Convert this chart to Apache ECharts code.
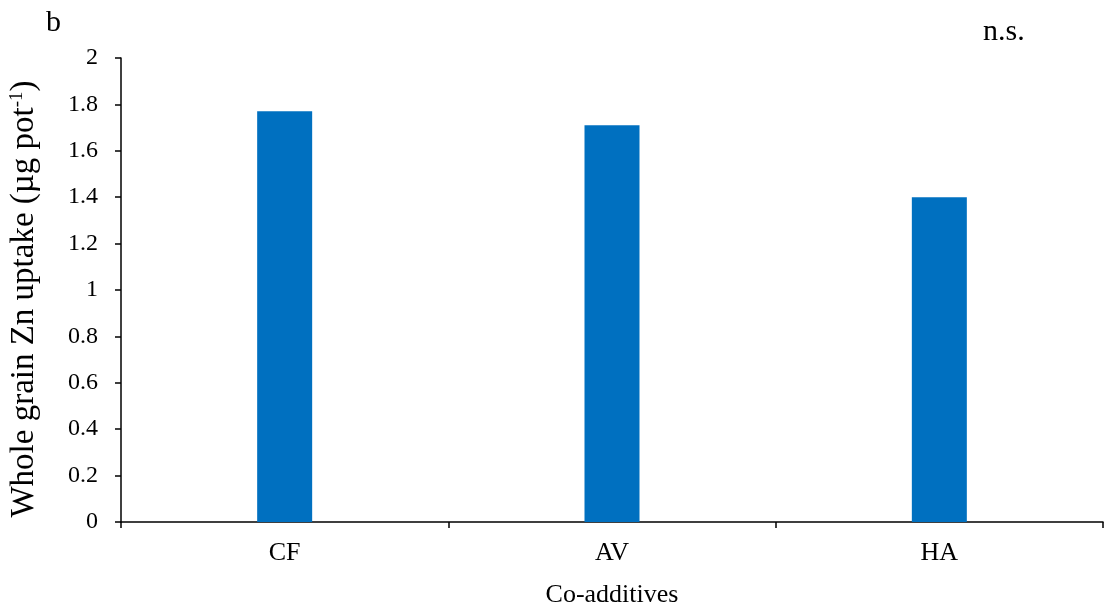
<!DOCTYPE html>
<html><head><meta charset="utf-8">
<script src="https://cdn.jsdelivr.net/npm/echarts@6/dist/echarts.min.js"></script>
<style>html,body{margin:0;padding:0;background:#fff}#c{width:1104px;height:605px}</style>
</head><body><div id="c"></div>
<script>
const categories = ['CF', 'AV', 'HA'];
const values = [1.77, 1.71, 1.40];
const yTicks = { min: 0, max: 2, interval: 0.2 };

const chart = echarts.init(document.getElementById('c'), null, { renderer: 'canvas' });
const font = 'Liberation Serif, Times New Roman, serif';
chart.setOption({
  animation: false,
  backgroundColor: '#fff',
  textStyle: { fontFamily: font },
  grid: { left: 121, right: 1, top: 58, bottom: 83, outerBoundsMode: 'none', containLabel: false },
  graphic: [
    { type: 'text', left: 46, top: 8, style: { text: 'b', font: '30px ' + font, fill: '#000' } },
    { type: 'text', left: 983, top: 17, style: { text: 'n.s.', font: '30px ' + font, fill: '#000' } }
  ],
  xAxis: {
    type: 'category',
    data: categories,
    name: 'Co-additives',
    nameLocation: 'middle',
    nameGap: 60,
    nameTextStyle: { fontFamily: font, fontSize: 26, color: '#000' },
    axisLine: { lineStyle: { color: '#000', width: 1.5 } },
    axisTick: { show: true, length: 6, lineStyle: { color: '#000', width: 1.5 } },
    axisLabel: { fontFamily: font, fontSize: 26, color: '#000', margin: 18 }
  },
  yAxis: {
    type: 'value',
    min: yTicks.min, max: yTicks.max, interval: yTicks.interval,
    name: 'Whole grain Zn uptake (µg pot{sup|-1})',
    nameLocation: 'middle',
    nameGap: 80,
    nameTextStyle: { fontFamily: font, fontSize: 33, color: '#000', padding: [0, 18, 0, 0],
      rich: { sup: { fontFamily: font, fontSize: 19, color: '#000', verticalAlign: 'top', padding: [0, 0, 14, 0] } } },
    axisLine: { show: true, lineStyle: { color: '#000', width: 1.5 } },
    axisTick: { show: true, length: 6, lineStyle: { color: '#000', width: 1.5 } },
    axisLabel: { fontFamily: font, fontSize: 24, color: '#000', margin: 23,
      formatter: v => String(Math.round(v * 10) / 10) },
    splitLine: { show: false }
  },
  series: [{
    type: 'bar',
    data: values,
    barWidth: 55,
    itemStyle: { color: '#0070C0' }
  }]
});
</script></body></html>
